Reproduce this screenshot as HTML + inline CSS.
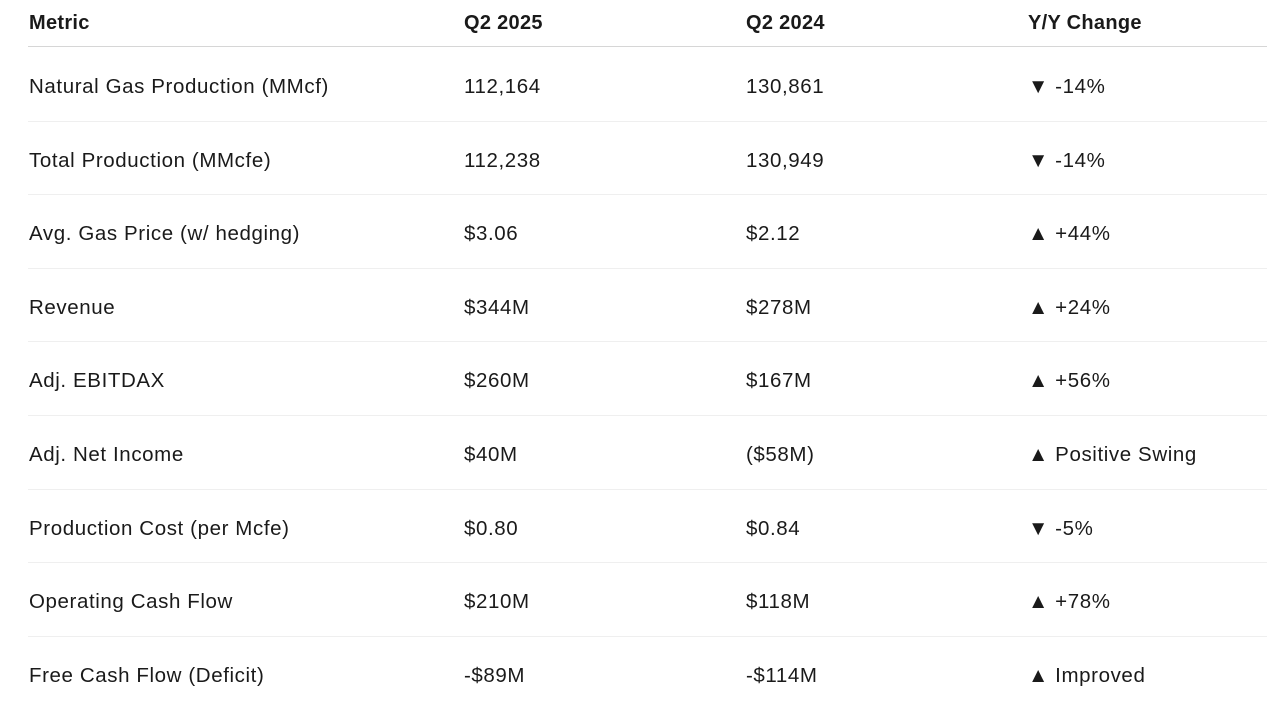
<!DOCTYPE html>
<html><head><meta charset="utf-8"><style>
html,body{margin:0;padding:0;background:#fff;width:1267px;height:727px;overflow:hidden}
body{font-family:"Liberation Sans",sans-serif;color:#1a1a1a;position:relative}
.row{position:absolute;left:28px;width:1239px;border-bottom:1px solid #efefef}
.row.last{border-bottom:none}
.hdr{border-bottom:1px solid #d6d6d6;font-weight:bold}
.c{position:absolute;top:0;white-space:nowrap;font-size:20.5px;letter-spacing:0.6px}
.hdr .c{font-size:20px;letter-spacing:0.3px}
.c1{left:1px}.c2{left:436px}.c3{left:718px}.c4{left:1000px}
</style></head><body>
<div id="t"></div>
<script>
const headers=["Metric","Q2 2025","Q2 2024","Y/Y Change"];
const rows=[
["Natural Gas Production (MMcf)","112,164","130,861","▼ -14%"],
["Total Production (MMcfe)","112,238","130,949","▼ -14%"],
["Avg. Gas Price (w/ hedging)","$3.06","$2.12","▲ +44%"],
["Revenue","$344M","$278M","▲ +24%"],
["Adj. EBITDAX","$260M","$167M","▲ +56%"],
["Adj. Net Income","$40M","($58M)","▲ Positive Swing"],
["Production Cost (per Mcfe)","$0.80","$0.84","▼ -5%"],
["Operating Cash Flow","$210M","$118M","▲ +78%"],
["Free Cash Flow (Deficit)","-$89M","-$114M","▲ Improved"]
];
const t=document.getElementById('t');
function mk(cells,top,h,hdr,last){
 const r=document.createElement('div');
 r.className='row'+(hdr?' hdr':'')+(last?' last':'');
 
 
 r.style.top=top+'px';r.style.height=h+'px';
 cells.forEach((v,j)=>{
  const c=document.createElement('div');
  c.className='c c'+(j+1);
  
  
  c.style.lineHeight=h+'px';
  if(!hdr)c.style.top='3px';
  c.textContent=v;r.appendChild(c);
 });
 t.appendChild(r);
}
mk(headers,0,46,true,false);
rows.forEach((r,i)=>mk(r,48+i*73.6,72.6,false,i===rows.length-1));
</script>
</body></html>
